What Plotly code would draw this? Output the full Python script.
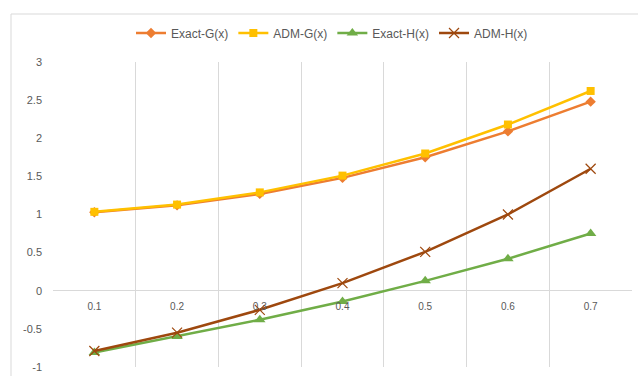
import plotly.graph_objects as go

# Category labels and series values
x_labels = ["0.1", "0.2", "0.3", "0.4", "0.5", "0.6", "0.7"]
exact_g = [1.03, 1.12, 1.27, 1.48, 1.75, 2.09, 2.48]
adm_g = [1.035, 1.13, 1.29, 1.51, 1.80, 2.18, 2.62]
exact_h = [-0.81, -0.60, -0.38, -0.14, 0.13, 0.42, 0.75]
adm_h = [-0.79, -0.55, -0.25, 0.10, 0.51, 1.00, 1.60]
y_ticks = [-1, -0.5, 0, 0.5, 1, 1.5, 2, 2.5, 3]

series = [
    ("Exact-G(x)", exact_g, "#ED7D31", dict(symbol="diamond", size=8)),
    ("ADM-G(x)", adm_g, "#FFC000", dict(symbol="square", size=8)),
    ("Exact-H(x)", exact_h, "#70AD47", dict(symbol="triangle-up", size=10)),
    ("ADM-H(x)", adm_h, "#9E480E",
     dict(symbol="x-thin-open", size=10, line=dict(width=1.2, color="#9E480E"))),
]

fig = go.Figure()
for name, vals, color, marker in series:
    fig.add_trace(go.Scatter(
        x=x_labels, y=vals, name=name, mode="lines+markers",
        line=dict(color=color, width=2.5),
        marker=dict(color=color, **marker),
    ))

# plot area in pixels: left 53, right 632, top 62, bottom 367
W, H = 638, 376
L, R, T, B = 53, 632, 62, 367
ymin, ymax = -1, 3
zero_pos = (0 - ymin) / (ymax - ymin)

font = "Liberation Sans"
fig.update_layout(
    width=W, height=H,
    margin=dict(l=L, r=W - R, t=T, b=H - B, autoexpand=False),
    paper_bgcolor="white", plot_bgcolor="white",
    font=dict(family=font, color="#595959", size=11),
    showlegend=True,
    legend=dict(
        orientation="h", x=(332 - L) / (R - L), xanchor="center",
        y=(B - 33) / (B - T), yanchor="middle",
        font=dict(size=12, color="#595959"),
        itemwidth=30, tracegroupgap=0, bgcolor="rgba(0,0,0,0)",
    ),
    xaxis=dict(
        type="category", tickson="boundaries",
        showgrid=True, gridcolor="#D9D9D9", gridwidth=1,
        showline=False, zeroline=False,
        anchor="free", position=zero_pos,
        ticks="", ticklabelstandoff=8,
        tickfont=dict(size=10, color="#595959"),
        range=[-0.5, 6.5],
    ),
    yaxis=dict(
        range=[ymin, ymax], tickvals=y_ticks,
        ticktext=[f"{v:g}" for v in y_ticks],
        showgrid=False, zeroline=True, zerolinecolor="#D9D9D9", zerolinewidth=1,
        showline=False, ticks="", ticklabelstandoff=10,
        tickfont=dict(size=11, color="#595959"),
    ),
    shapes=[
        # outer chart frame
        dict(type="rect", xref="paper", yref="paper",
             x0=(11 - L) / (R - L), x1=(W + 10 - L) / (R - L),
             y0=(B - (H + 10)) / (B - T), y1=(B - 14) / (B - T),
             line=dict(color="#D9D9D9", width=1), fillcolor="rgba(0,0,0,0)",
             layer="below"),
    ],
)

fig.write_html("out.html")
